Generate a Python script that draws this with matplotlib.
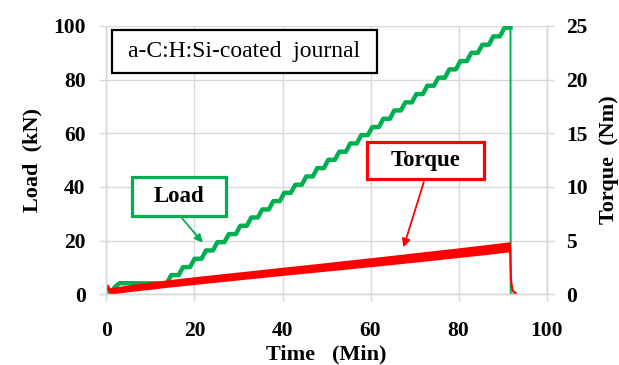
#!/usr/bin/env python3
"""Load / torque history for the a-C:H:Si-coated journal test."""

import matplotlib
matplotlib.use("Agg")
import matplotlib.pyplot as plt
from matplotlib.patches import Rectangle
import numpy as np

plt.rcParams["font.family"] = ["Liberation Serif", "DejaVu Serif"]

GREEN = "#00b050"
RED = "#ff0000"
GRID = "#d9d9d9"

# Load (kN): run-in part, then a staircase of load steps, then unloading
load_start_t = [0.0, 0.8, 2.0, 3.0, 13.7]
load_start = [0.0, 0.4, 2.8, 4.1, 4.0]
riser_t = [13.7, 16.4, 19.0, 21.6, 24.2, 26.8, 29.4, 31.9, 34.4, 36.9,
           39.4, 41.9, 44.4, 46.9, 49.4, 51.9, 54.4, 56.9, 59.4, 61.9,
           64.4, 66.9, 69.4, 71.9, 74.4, 76.9, 79.4, 81.9, 84.4, 86.9, 89.4]
plateau_load = [7.1, 10.1, 13.2, 16.3, 19.4, 22.4, 25.5, 28.6, 31.6, 34.7,
                37.8, 40.8, 43.9, 47.0, 50.1, 53.1, 56.2, 59.3, 62.3, 65.4,
                68.5, 71.5, 74.6, 77.7, 80.7, 83.8, 86.9, 90.0, 93.0, 96.1, 99.2]
peak_t, peak_load = 91.8, 99.4
unload_t = [91.8, 91.85, 93.0]
unload = [99.4, 0.0, 0.0]

# Torque (Nm): band centre and half-width of the scatter
torque_t = [0.0, 0.2, 0.8, 5.0, 10.0, 14.0, 20.0, 30.0, 40.0, 50.0, 60.0,
            70.0, 80.0, 85.0, 91.7, 91.9, 92.3, 93.0]
torque = [0.45, 0.7, 0.3, 0.55, 0.8, 1.0, 1.27, 1.7, 2.13, 2.55, 2.98,
          3.42, 3.87, 4.1, 4.42, 1.3, 0.3, 0.1]
torque_band = [0.25, 0.3, 0.3, 0.32, 0.34, 0.35, 0.36, 0.37, 0.38, 0.4,
               0.42, 0.44, 0.45, 0.46, 0.47, 0.1, 0.08, 0.05]

RAMP = 1.0  # minutes spent on each load riser


def staircase():
    t = list(load_start_t)
    y = list(load_start)
    prev = load_start[-1]
    for tr, lv in zip(riser_t, plateau_load):
        t += [tr, tr + RAMP]
        y += [prev, lv]
        prev = lv
    t.append(peak_t)
    y.append(peak_load)
    return np.array(t), np.array(y)


def label_box(a, x0, y0, x1, y1, text, color, size, weight, lw):
    a.add_patch(Rectangle((x0, y0), x1 - x0, y1 - y0, transform=a.transAxes,
                          fc="white", ec=color, lw=lw, zorder=6,
                          clip_on=False))
    a.text((x0 + x1) / 2, (y0 + y1) / 2, text, transform=a.transAxes,
           fontsize=size, fontweight=weight, ha="center", va="center",
           zorder=7)


fig = plt.figure(figsize=(6.19, 3.65), dpi=100)
ax = fig.add_axes([0.172, 0.194, 0.711, 0.735])
ax2 = ax.twinx()

lt, ly = staircase()
ax.plot(lt, ly, color=GREEN, linewidth=3.2, solid_joinstyle="round")
ax.plot(unload_t, unload, color=GREEN, linewidth=1.4)

tt = np.array(torque_t)
tq = np.array(torque)
tb = np.array(torque_band)
ax2.fill_between(tt, tq - tb, tq + tb, color=RED, linewidth=0)
ax2.plot(tt, tq, color=RED, linewidth=1.5)

ax.set_xlim(0, 100)
ax.set_ylim(0, 100)
ax2.set_ylim(0, 25)
ax.set_xticks(range(0, 101, 20))
ax.set_yticks(range(0, 101, 20))
ax2.set_yticks(range(0, 26, 5))
ax.grid(color=GRID, linewidth=1.0)
ax.set_axisbelow(True)

for a in (ax, ax2):
    for sp in a.spines.values():
        sp.set_color(GRID)
        sp.set_linewidth(1.0)
    a.spines["top"].set_visible(False)
    a.tick_params(colors=GRID, length=5, width=1.0, labelcolor="black",
                  labelsize=15.5)
    for lab in a.get_xticklabels() + a.get_yticklabels():
        lab.set_fontweight("bold")
ax.tick_params(axis="x", pad=14)
ax.tick_params(axis="y", pad=10)
ax2.tick_params(axis="y", pad=9)

ax.set_xlabel("Time   (Min)", fontsize=16, fontweight="bold", labelpad=3)
ax.set_ylabel("Load  (kN)", fontsize=16, fontweight="bold", labelpad=8)
ax2.set_ylabel("Torque  (Nm)", fontsize=16, fontweight="bold", labelpad=8)

label_box(ax2, 0.012, 0.825, 0.614, 0.985, "a-C:H:Si-coated  journal",
          "black", 17, "normal", 1.6)

ax2.annotate("", xy=(0.223, 0.184), xytext=(0.168, 0.29),
             xycoords="axes fraction", textcoords="axes fraction",
             arrowprops=dict(arrowstyle="-|>", color=GREEN, lw=1.3,
                             mutation_scale=12), zorder=6)
label_box(ax2, 0.0575, 0.292, 0.271, 0.437, "Load", GREEN, 16.5, "bold", 2.3)

ax2.annotate("", xy=(0.673, 0.165), xytext=(0.723, 0.428),
             xycoords="axes fraction", textcoords="axes fraction",
             arrowprops=dict(arrowstyle="-|>", color=RED, lw=1.3,
                             mutation_scale=12), zorder=6)
label_box(ax2, 0.593, 0.430, 0.857, 0.568, "Torque", RED, 16.5, "bold", 2.3)

fig.savefig("out.png", dpi=100)
